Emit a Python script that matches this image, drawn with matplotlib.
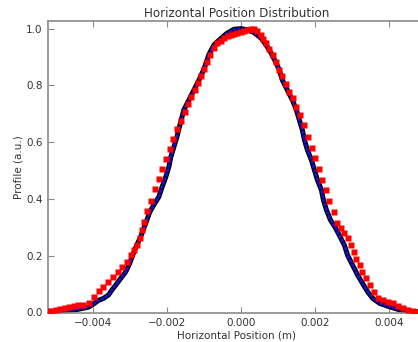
import matplotlib
matplotlib.use("Agg")
import matplotlib.pyplot as plt
from matplotlib.ticker import FuncFormatter
import numpy as np

# measured profile (black line with blue dots), x in mm
meas_x = [-5.265, -4.803, -4.450, -4.125, -3.989, -3.853, -3.718, -3.582, -3.501, -3.392,
          -3.256, -3.121, -3.012, -2.931, -2.822, -2.714, -2.578, -2.469, -2.361, -2.225,
          -2.144, -2.035, -1.954, -1.900, -1.818, -1.737, -1.655, -1.547, -1.411, -1.275,
          -1.140, -1.004, -0.868, -0.733, -0.543, -0.380, -0.190, 0.000, 0.163, 0.353,
          0.543, 0.678, 0.814, 0.950, 1.031, 1.113, 1.248, 1.384, 1.493, 1.574,
          1.655, 1.710, 1.791, 1.900, 1.981, 2.062, 2.171, 2.225, 2.307, 2.415,
          2.551, 2.687, 2.795, 2.877, 3.012, 3.148, 3.284, 3.419, 3.555, 3.745,
          4.016, 4.288, 4.559, 4.776]
meas_y = [0.003, 0.006, 0.010, 0.019, 0.030, 0.043, 0.050, 0.062, 0.078, 0.096,
          0.120, 0.143, 0.173, 0.202, 0.237, 0.267, 0.315, 0.354, 0.379, 0.407,
          0.439, 0.478, 0.513, 0.548, 0.583, 0.618, 0.661, 0.714, 0.749, 0.784,
          0.819, 0.858, 0.910, 0.943, 0.966, 0.984, 0.998, 1.000, 0.996, 0.986,
          0.966, 0.942, 0.913, 0.878, 0.855, 0.819, 0.784, 0.749, 0.714, 0.678,
          0.643, 0.608, 0.573, 0.537, 0.502, 0.467, 0.431, 0.396, 0.361, 0.326,
          0.298, 0.264, 0.236, 0.202, 0.167, 0.132, 0.102, 0.073, 0.050, 0.032,
          0.020, 0.009, 0.004, 0.002]

# model profile (red squares), x in mm
model_x = [-5.237, -5.129, -4.993, -4.885, -4.749, -4.640, -4.505, -4.396, -4.261, -4.125,
           -3.989, -3.853, -3.737, -3.609, -3.474, -3.338, -3.221, -3.086, -2.977, -2.885,
           -2.809, -2.722, -2.673, -2.632, -2.543, -2.434, -2.334, -2.225, -2.136, -2.027,
           -1.935, -1.837, -1.729, -1.636, -1.528, -1.438, -1.349, -1.248, -1.167, -1.085,
           -1.004, -0.915, -0.828, -0.733, -0.643, -0.543, -0.461, -0.366, -0.280, -0.190,
           -0.100, -0.008, 0.081, 0.171, 0.263, 0.353, 0.434, 0.535, 0.597, 0.670,
           0.760, 0.849, 0.942, 1.031, 1.113, 1.208, 1.303, 1.392, 1.484, 1.593,
           1.691, 1.799, 1.908, 2.000, 2.098, 2.190, 2.299, 2.388, 2.497, 2.586,
           2.687, 2.782, 2.885, 2.977, 3.039, 3.113, 3.202, 3.275, 3.384, 3.493,
           3.582, 3.699, 3.834, 3.970, 4.106, 4.241, 4.377, 4.513, 4.649, 4.757]
model_y = [0.004, 0.007, 0.010, 0.013, 0.016, 0.019, 0.022, 0.025, 0.028, 0.032,
           0.056, 0.076, 0.091, 0.109, 0.126, 0.144, 0.161, 0.179, 0.203, 0.220,
           0.238, 0.263, 0.291, 0.319, 0.359, 0.394, 0.434, 0.469, 0.506, 0.541,
           0.576, 0.612, 0.647, 0.676, 0.708, 0.735, 0.760, 0.784, 0.809, 0.833,
           0.858, 0.883, 0.907, 0.931, 0.949, 0.958, 0.966, 0.973, 0.978, 0.982,
           0.986, 0.989, 0.993, 0.995, 0.998, 0.998, 0.992, 0.978, 0.964, 0.949,
           0.928, 0.907, 0.884, 0.855, 0.833, 0.805, 0.778, 0.755, 0.725, 0.696,
           0.661, 0.619, 0.579, 0.543, 0.504, 0.467, 0.432, 0.393, 0.355, 0.316,
           0.298, 0.280, 0.261, 0.237, 0.214, 0.190, 0.167, 0.144, 0.120, 0.097,
           0.073, 0.052, 0.044, 0.038, 0.032, 0.024, 0.017, 0.010, 0.005, 0.001]

xticks = [-0.004, -0.002, 0.0, 0.002, 0.004]
yticks = [0.0, 0.2, 0.4, 0.6, 0.8, 1.0]

text_color = "#333333"
spine_color = "#8a8a8a"

plt.rcParams["font.family"] = "DejaVu Sans"

fig = plt.figure(figsize=(4.18, 3.42), dpi=100)
ax = fig.add_axes([48 / 418, 29.5 / 342, 377 / 418, 291.5 / 342])

mx = np.array(meas_x) * 1e-3
px = np.array(model_x) * 1e-3

ax.plot(mx, meas_y, color="black", lw=3.6, solid_capstyle="round",
        solid_joinstyle="round", zorder=2)
ax.plot(mx, meas_y, color="#1212e0", lw=2.0, linestyle=(0, (0.5, 1.1)),
        dash_capstyle="round", zorder=3)
ax.plot(px, model_y, "s", color="#ff0000", mec="none", ms=3.7, zorder=4)

ax.set_xlim(-0.00522, 0.00497)
ax.set_ylim(0.0, 1.027)
ax.set_xticks(xticks)
ax.set_yticks(yticks)
ax.xaxis.set_major_formatter(FuncFormatter(lambda v, p: f"{v:.3f}".replace("-", "\u2212")))
ax.yaxis.set_major_formatter(FuncFormatter(lambda v, p: f"{v:.1f}"))

ax.tick_params(direction="in", top=True, right=True, length=4, width=0.8,
               color=spine_color, labelsize=7.5, labelcolor=text_color, pad=4)
for s in ax.spines.values():
    s.set_color(spine_color)
    s.set_linewidth(1.2)

ax.set_title("Horizontal Position Distribution", fontsize=8.6, color=text_color, pad=3)
ax.set_xlabel("Horizontal Position (m)", fontsize=7.5, color=text_color, labelpad=2)
ax.set_ylabel("Profile (a.u.)", fontsize=7.5, color=text_color, labelpad=1.5)

fig.savefig("out.png", dpi=100)
